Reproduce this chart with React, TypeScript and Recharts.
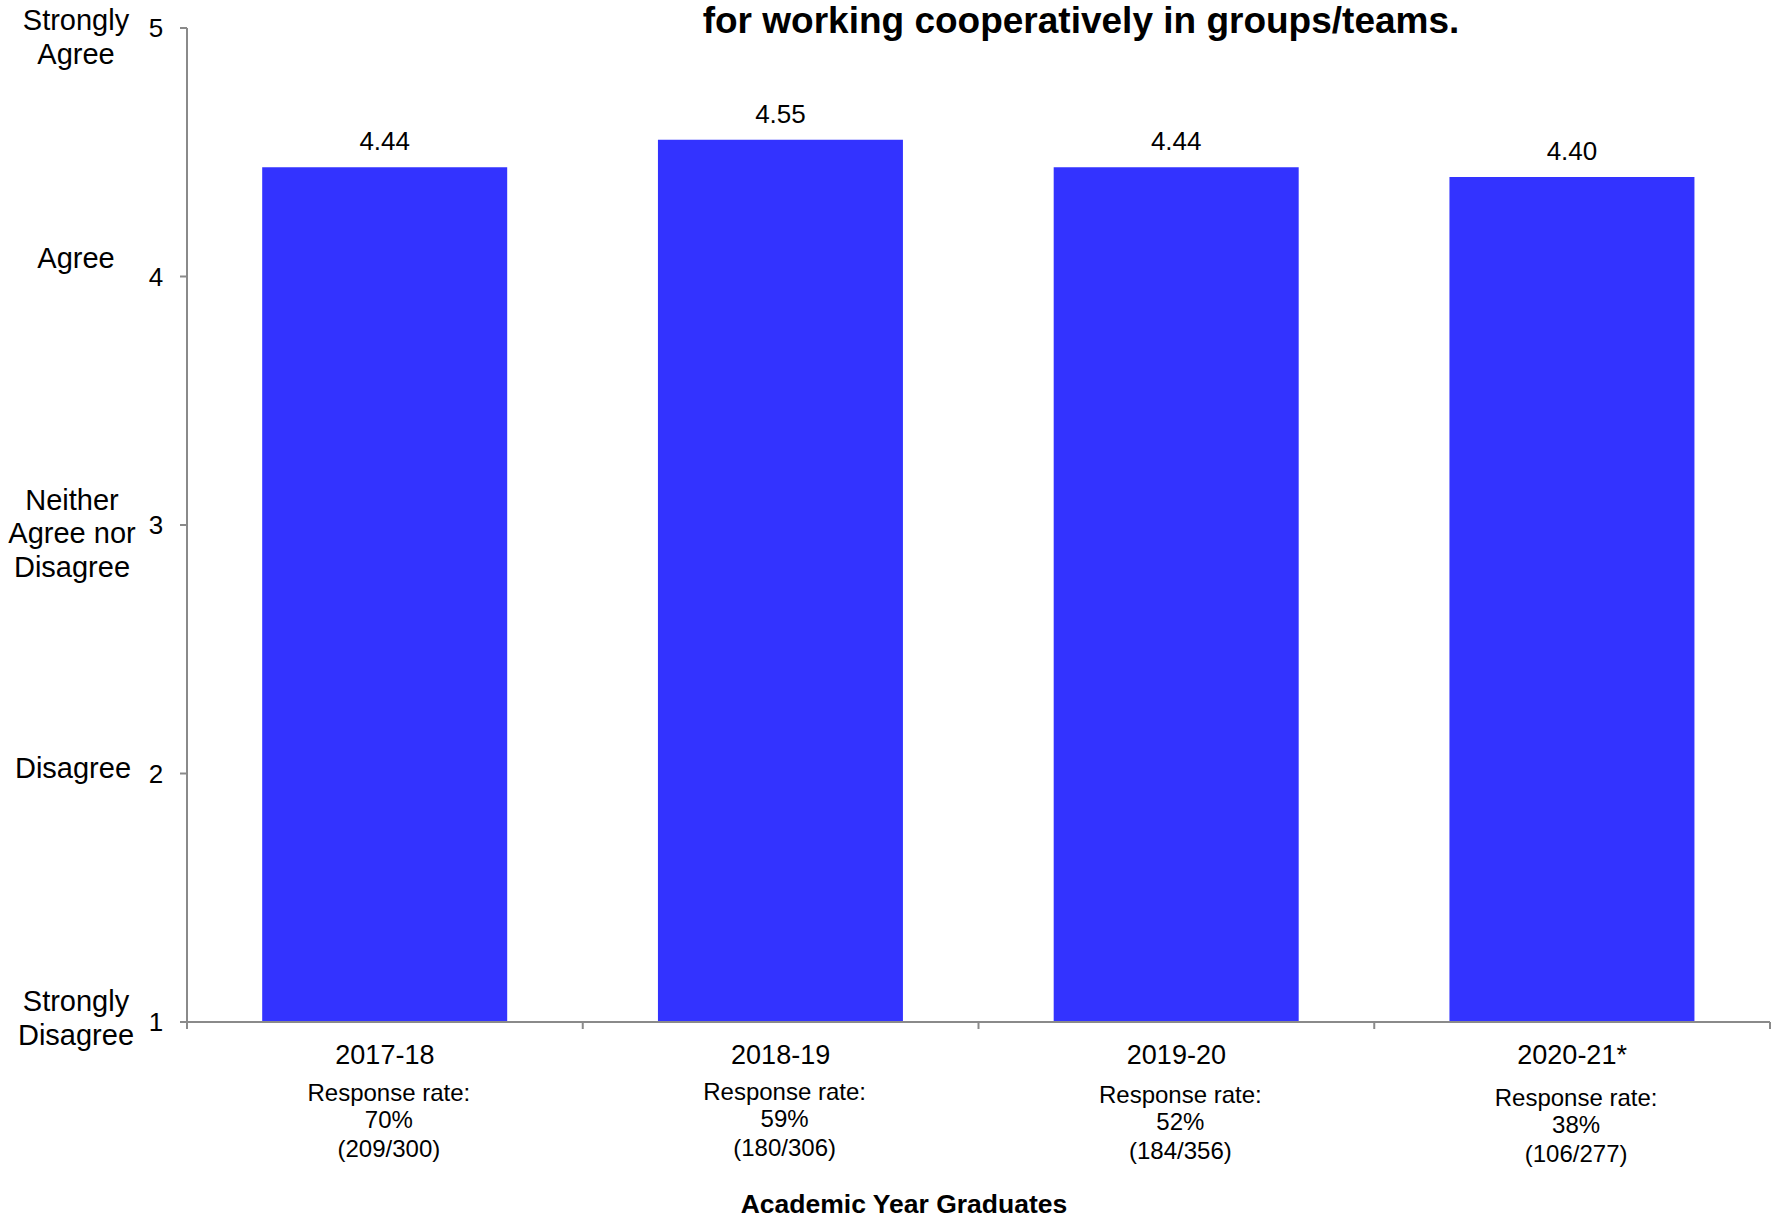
import React from "react"
import { Bar, BarChart, LabelList, XAxis, YAxis } from "recharts"

const categories = ["2017-18", "2018-19", "2019-20", "2020-21*"]
const meanScores = [4.44, 4.55, 4.44, 4.4]
const responseRates = ["70%", "59%", "52%", "38%"]
const responseCounts = ["(209/300)", "(180/306)", "(184/356)", "(106/277)"]

const yTicks = [1, 2, 3, 4, 5]
const yTickWords = [
  ["Strongly", "Disagree"],
  ["Disagree"],
  ["Neither", "Agree nor", "Disagree"],
  ["Agree"],
  ["Strongly", "Agree"],
]

const titleText = "for working cooperatively in groups/teams."
const xAxisTitle = "Academic Year Graduates"

const data = categories.map((name, i) => ({
  name,
  score: meanScores[i],
  rate: responseRates[i],
  count: responseCounts[i],
}))

const FONT = "'Liberation Sans', Arial, sans-serif"
const BAR_COLOR = "#3333FF"
const AXIS_COLOR = "#8a8a8a"

// small hand nudges so the word labels sit like the original
const wordNudge: Record<number, { dx: number; dy: number }> = {
  1: { dx: -104, dy: -4 },
  2: { dx: -107, dy: -6 },
  3: { dx: -108, dy: 8 },
  4: { dx: -104, dy: -19 },
  5: { dx: -104, dy: 9 },
}
const rateNudge = [0, -1, 2, 5]

function YTick(props: any) {
  const { x, y, payload } = props
  const v = payload.value as number
  const words = yTickWords[yTicks.indexOf(v)] || []
  const n = wordNudge[v] || { dx: -104, dy: 0 }
  const lh = 33.5
  const first = y + n.dy - ((words.length - 1) * lh) / 2
  return (
    <g>
      <text x={x - 24} y={y} textAnchor="middle" dominantBaseline="central" fontSize={26} fill="#000">
        {v}
      </text>
      {words.map((w, i) => (
        <text
          key={i}
          x={x + n.dx}
          y={first + i * lh}
          textAnchor="middle"
          dominantBaseline="central"
          fontSize={29}
          fill="#000"
        >
          {w}
        </text>
      ))}
    </g>
  )
}

function XTick(props: any) {
  const { x, y, payload, index, width, visibleTicksCount } = props
  const count = visibleTicksCount || categories.length
  const band = (typeof width === "number" ? width : 1583) / count
  const row = data[index] || data.find((d) => d.name === payload.value)
  const dy = rateNudge[index] || 0
  return (
    <g>
      <line x1={x - band / 2} x2={x - band / 2} y1={y} y2={y + 7} stroke={AXIS_COLOR} strokeWidth={2} />
      {index === count - 1 && (
        <line x1={x + band / 2} x2={x + band / 2} y1={y} y2={y + 7} stroke={AXIS_COLOR} strokeWidth={2} />
      )}
      <text x={x} y={y + 33} textAnchor="middle" dominantBaseline="central" fontSize={27} fill="#000">
        {payload.value}
      </text>
      <text x={x + 4} y={y + 70 + dy} textAnchor="middle" dominantBaseline="central" fontSize={24} fill="#000">
        Response rate:
      </text>
      <text x={x + 4} y={y + 97 + dy} textAnchor="middle" dominantBaseline="central" fontSize={24} fill="#000">
        {row ? row.rate : ""}
      </text>
      <text x={x + 4} y={y + 126 + dy} textAnchor="middle" dominantBaseline="central" fontSize={24} fill="#000">
        {row ? row.count : ""}
      </text>
    </g>
  )
}

export default function App() {
  return (
    <div
      style={{
        position: "absolute",
        left: 0,
        top: 0,
        width: 1771,
        height: 1220,
        background: "#fff",
        fontFamily: FONT,
        overflow: "hidden",
      }}
    >
      <BarChart
        width={1771}
        height={1220}
        data={data}
        margin={{ top: 28, right: 1, left: 0, bottom: 8 }}
        barCategoryGap="19%"
      >
        <XAxis
          dataKey="name"
          height={190}
          interval={0}
          tickSize={0}
          tickMargin={0}
          tickLine={false}
          axisLine={{ stroke: AXIS_COLOR, strokeWidth: 2 }}
          tick={<XTick />}
        />
        <YAxis
          width={187}
          domain={[1, 5]}
          ticks={yTicks}
          interval={0}
          tickSize={7}
          tickMargin={0}
          axisLine={{ stroke: AXIS_COLOR, strokeWidth: 2 }}
          tickLine={{ stroke: AXIS_COLOR, strokeWidth: 2 }}
          tick={<YTick />}
        />
        <Bar dataKey="score" fill={BAR_COLOR} isAnimationActive={false}>
          <LabelList
            dataKey="score"
            position="top"
            offset={17}
            fontSize={26}
            fill="#000"
            formatter={(v: any) => Number(v).toFixed(2)}
          />
        </Bar>
      </BarChart>
      <svg
        width={1771}
        height={1220}
        style={{ position: "absolute", left: 0, top: 0, pointerEvents: "none" }}
      >
        <text x={1081} y={33} textAnchor="middle" fontSize={37} fontWeight="bold" fill="#000">
          {titleText}
        </text>
        <text x={904} y={1213} textAnchor="middle" fontSize={26.5} fontWeight="bold" fill="#000">
          {xAxisTitle}
        </text>
      </svg>
    </div>
  )
}
